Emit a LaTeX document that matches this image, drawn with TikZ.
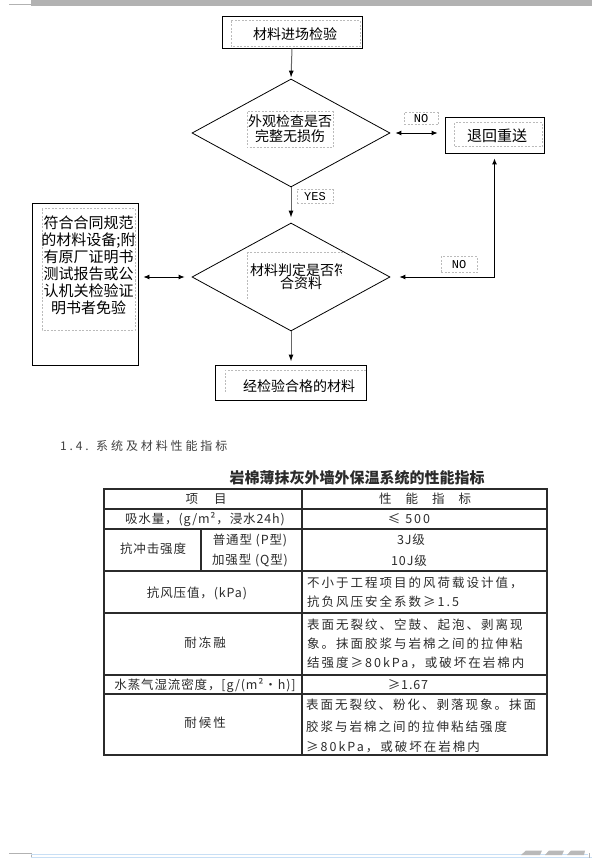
\documentclass[tikz,border=0pt]{standalone}
\usepackage{fontspec}
\setmainfont{Liberation Serif}
\newfontfamily\cjk{Noto Sans CJK SC}
\newfontfamily\cjkls[LetterSpace=16]{Noto Sans CJK SC}
\newfontfamily\cjkla[LetterSpace=7]{Noto Sans CJK SC}
\newfontfamily\cjkhd[LetterSpace=24]{Noto Sans CJK SC}
\newfontfamily\lblfont{Liberation Mono}
\usetikzlibrary{shapes.geometric,arrows.meta}
\definecolor{dashgray}{HTML}{BBBBBB}
\definecolor{linegray}{HTML}{666666}
\definecolor{tabink}{HTML}{2B2B2B}
\definecolor{barblue}{HTML}{C8DFF5}
\tikzset{
  flowbox/.style={draw=black,line width=0.9pt,inner sep=0pt,minimum width=#1},
  dia/.style={draw=black,line width=0.8pt,diamond,inner sep=0pt,minimum width=198pt,minimum height=108pt},
  innerdash/.style={draw=dashgray,line width=1pt,dash pattern=on 2pt off 1.5pt},
  lbl/.style={draw=dashgray,line width=1pt,dash pattern=on 2pt off 1.5pt,inner sep=0pt,font=\lblfont\fontsize{12}{12}\selectfont},
  ftext/.style={font=\cjk\fontsize{14}{15}\selectfont,inner sep=0pt},
  varrow/.style={draw=linegray,line width=1pt,-{Latex[length=7pt,width=5pt,color=black]}},
  harrow/.style={draw=black,line width=0.9pt,{Latex[length=6pt,width=5pt]}-{Latex[length=6pt,width=5pt]}},
  tabline/.style={draw=tabink,line width=1.2pt},
  ttext/.style={font=\cjkls\fontsize{12.5}{14}\selectfont,text=tabink,inner sep=0pt},
  ltext/.style={font=\cjkla\fontsize{12.5}{14}\selectfont,text=tabink,inner sep=0pt},
}
\begin{document}
\begin{tikzpicture}[x=1pt,y=-1pt]
\useasboundingbox (0,0) rectangle (592,858);
% header bar
\fill[gray!60] (31,0) rectangle (592,6);
\draw[gray!60,line width=0.8pt] (9,4) -- (31,4);

% flowchart nodes
\node[flowbox=140pt,minimum height=32pt] (b1) at (292,32) {};
\draw[innerdash] (231,21) rectangle (360,47);
\node[ftext] (t1) at (295,34) {材料进场检验};

\node[dia] (d1) at (291,133) {};
\draw[innerdash] (247,112) rectangle (333,148);
\node[ftext,align=center] (t2) at (290,128.5) {外观检查是否\\完整无损伤};

\node[flowbox=99pt,minimum height=36pt] (ret) at (494.5,135) {};
\draw[innerdash] (454,123) rectangle (542,147);
\node[ftext,font=\cjk\fontsize{15}{15}\selectfont] (t3) at (497,136) {退回重送};

\node[dia] (d2) at (291,277) {};
\draw[innerdash] (343,253) -- (247,253) -- (247,300);
\begin{scope}
\clip (247,250) rectangle (341,300);
\node[ftext,anchor=west] (t4) at (250,270) {材料判定是否符};
\node[ftext] (t5) at (301,283) {合资料};
\end{scope}

\node[flowbox=106pt,minimum height=162pt] (left) at (85,284) {};
\draw[innerdash] (42,209) rectangle (135,330);
\node[ftext,align=center,font=\cjk\fontsize{15}{17}\selectfont] (t6) at (88.5,265)
  {符合合同规范\\的材料设备;附\\有原厂证明书\\测试报告或公\\认机关检验证\\明书者免验};

\node[flowbox=151pt,minimum height=35pt] (b4) at (290.5,382.5) {};
\draw[innerdash] (366,370) -- (225,370) -- (225,393);
\node[ftext] (t7) at (299,386) {经检验合格的材料};

% labels
\node[lbl,minimum width=34pt,minimum height=12pt] (no1) at (421,119) {NO};
\node[lbl,minimum width=36pt,minimum height=14pt] (yes) at (315,197) {YES};
\node[lbl,minimum width=36pt,minimum height=16pt] (no2) at (459,265) {NO};

% connectors
\draw[varrow,shorten >=1pt] (b1.south) -- (d1.north);
\draw[harrow,shorten <=5pt,shorten >=7pt] (d1.east) -- (d1.east -| ret.west);
\draw[varrow,shorten >=5pt] (d1.south) -- (d2.north);
\draw[harrow,shorten <=5pt,shorten >=9pt] (ret.south) |- (d2.east);
\draw[harrow,shorten <=5pt,shorten >=7pt] (left.east |- d2.west) -- (d2.west);
\draw[varrow,shorten >=3pt] (d2.south) -- (d2.south |- b4.north);

% section heading
\node[anchor=west,inner sep=0pt,text=black!75,font=\cjkhd\fontsize{12}{12}\selectfont] (hd) at (60,446) {1.4. 系统及材料性能指标};

% table title
\node[inner sep=0pt,text=tabink,font=\cjk\bfseries\fontsize{15}{15}\selectfont] (ttl) at (357,478) {岩棉薄抹灰外墙外保温系统的性能指标};

% table grid
\draw[tabline] (104,489) rectangle (547,755);
\foreach \yy in {509,529,571,613,675,694} \draw[tabline] (104,\yy) -- (547,\yy);
\draw[tabline] (302,489) -- (302,755);
\draw[tabline] (201,529) -- (201,571);

% table text
\node[ttext] (h1) at (206,499) {项\hspace{16pt}目};
\node[ttext] (h2) at (425,499) {性\hspace{14pt}能\hspace{14pt}指\hspace{14pt}标};
\node[ltext] (r1a) at (205,519) {吸水量，(g/m²，浸水24h)};
\node[ttext] (r1b) at (409,519) {≤ 500};
\node[ltext] (r2a) at (153,549) {抗冲击强度};
\node[ltext] (r2b) at (250,540) {普通型 (P型)};
\node[ltext] (r2c) at (250,561) {加强型 (Q型)};
\node[ltext] (r2d) at (411,540) {3J级};
\node[ltext] (r2e) at (409,561) {10J级};
\node[ltext] (r3a) at (197,593) {抗风压值，(kPa)};
\node[ttext,anchor=west] (r3b) at (307,583) {不小于工程项目的风荷载设计值，};
\node[ttext,anchor=west] (r3c) at (307,602) {抗负风压安全系数≥1.5};
\node[ttext] (r4a) at (205,643) {耐冻融};
\node[ttext,anchor=west] (r4b) at (307,625) {表面无裂纹、空鼓、起泡、剥离现};
\node[ttext,anchor=west] (r4c) at (307,644) {象。抹面胶浆与岩棉之间的拉伸粘};
\node[ttext,anchor=west] (r4d) at (307,663) {结强度≥80kPa，或破坏在岩棉内};
\node[ltext] (r5a) at (205,685) {水蒸气湿流密度，[g/(m²·h)]};
\node[ltext] (r5b) at (408,685) {≥1.67};
\node[ttext] (r6a) at (205,723) {耐候性};
\node[ttext,anchor=west] (r6b) at (306,705) {表面无裂纹、粉化、剥落现象。抹面};
\node[ttext,anchor=west] (r6c) at (306,727) {胶浆与岩棉之间的拉伸粘结强度};
\node[ttext,anchor=west] (r6d) at (306,747) {≥80kPa，或破坏在岩棉内};

% footer
\draw[gray!60,line width=0.8pt] (9,853) -- (31,853) -- (31,858);
\draw[barblue,line width=1pt] (31,854.5) -- (588,854.5);
\draw[barblue,line width=1.2pt] (31,857.5) -- (592,857.5);
\draw[gray!60,line width=0.8pt] (589,853) -- (589,858);
\fill[gray!55] (521,855) -- (526,850.5) -- (542,850.5) -- (540,855) -- cycle;
\fill[gray!55] (545,855) -- (549,850.5) -- (564,850.5) -- (562,855) -- cycle;
\fill[gray!55] (567,855) -- (571,850.5) -- (585,850.5) -- (584,855) -- cycle;
\end{tikzpicture}
\end{document}
